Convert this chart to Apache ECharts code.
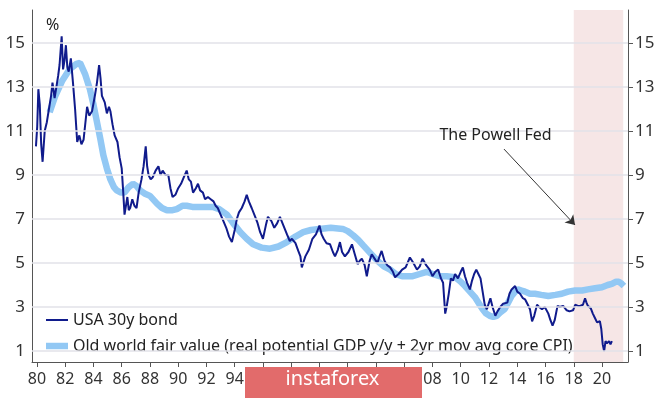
<!DOCTYPE html>
<html>
<head>
<meta charset="utf-8">
<script src="https://cdn.jsdelivr.net/npm/echarts@6/dist/echarts.min.js"></script>
<style>
  html, body { margin: 0; padding: 0; background: #fff; }
  #chart { width: 665px; height: 398px; }
</style>
</head>
<body>
<div id="chart"></div>
<script>
// USA 30y bond yield
const bondYears = [
  1979.93, 1980.02, 1980.1, 1980.2, 1980.3, 1980.4, 1980.55, 1980.7, 1980.85, 1981.0,
  1981.1, 1981.25, 1981.4, 1981.5, 1981.6, 1981.75, 1981.85, 1981.95, 1982.05, 1982.15,
  1982.25, 1982.4, 1982.55, 1982.7, 1982.85, 1983.0, 1983.15, 1983.3, 1983.45, 1983.55,
  1983.7, 1983.9, 1984.1, 1984.25, 1984.4, 1984.5, 1984.6, 1984.8, 1984.95, 1985.1,
  1985.2, 1985.35, 1985.5, 1985.7, 1985.85, 1986.0, 1986.1, 1986.2, 1986.3, 1986.4,
  1986.5, 1986.6, 1986.75, 1986.9, 1987.05, 1987.2, 1987.4, 1987.55, 1987.7, 1987.8,
  1987.9, 1988.05, 1988.2, 1988.4, 1988.6, 1988.75, 1988.9, 1989.1, 1989.3, 1989.45,
  1989.6, 1989.8, 1990.0, 1990.2, 1990.4, 1990.6, 1990.75, 1990.9, 1991.05, 1991.25,
  1991.4, 1991.55, 1991.75, 1991.9, 1992.1, 1992.3, 1992.5, 1992.65, 1992.8, 1993.0,
  1993.2, 1993.4, 1993.6, 1993.8, 1994.0, 1994.15, 1994.3, 1994.5, 1994.7, 1994.85,
  1995.0, 1995.2, 1995.45, 1995.6, 1995.8, 1996.0, 1996.2, 1996.35, 1996.6, 1996.8,
  1997.0, 1997.2, 1997.45, 1997.7, 1997.9, 1998.05, 1998.3, 1998.5, 1998.65, 1998.75,
  1998.9, 1999.0, 1999.25, 1999.5, 1999.75, 2000.0, 2000.15, 2000.3, 2000.5, 2000.75,
  2000.95, 2001.1, 2001.3, 2001.45, 2001.6, 2001.8, 2002.05, 2002.3, 2002.5, 2002.7,
  2002.85, 2003.0, 2003.2, 2003.35, 2003.55, 2003.7, 2003.9, 2004.1, 2004.25, 2004.4,
  2004.6, 2004.8, 2005.0, 2005.2, 2005.35, 2005.6, 2005.85, 2006.1, 2006.4, 2006.65,
  2006.9, 2007.1, 2007.3, 2007.55, 2007.8, 2008.0, 2008.2, 2008.4, 2008.6, 2008.75,
  2008.9, 2009.0, 2009.15, 2009.3, 2009.45, 2009.6, 2009.8, 2010.0, 2010.15, 2010.3,
  2010.45, 2010.65, 2010.8, 2010.95, 2011.1, 2011.25, 2011.4, 2011.55, 2011.7, 2011.85,
  2012.0, 2012.1, 2012.25, 2012.45, 2012.6, 2012.8, 2013.0, 2013.3, 2013.45, 2013.6,
  2013.85, 2014.0, 2014.2, 2014.4, 2014.55, 2014.75, 2014.9, 2015.05, 2015.2, 2015.4,
  2015.55, 2015.75, 2015.95, 2016.2, 2016.35, 2016.5, 2016.65, 2016.85, 2017.0, 2017.25,
  2017.5, 2017.7, 2017.95, 2018.1, 2018.3, 2018.45, 2018.65, 2018.8, 2018.9, 2019.0,
  2019.2, 2019.35, 2019.5, 2019.65, 2019.85, 2019.95, 2020.05, 2020.15, 2020.25, 2020.35,
  2020.5, 2020.6, 2020.7
]
const bondValues = [
  10.3, 11.2, 12.9, 12.2, 10.4, 9.6, 11.0, 11.4, 12.0, 12.6,
  13.2, 12.5, 13.1, 13.5, 14.0, 15.3, 13.8, 14.2, 14.9, 13.9,
  13.7, 14.3, 13.2, 12.0, 10.5, 10.8, 10.4, 10.6, 11.5, 12.1,
  11.7, 11.9, 12.6, 13.2, 14.0, 13.4, 12.6, 12.3, 11.8, 12.1,
  11.9, 11.3, 10.8, 10.5, 9.8, 9.3, 8.3, 7.2, 7.6, 8.0,
  7.4, 7.5, 7.9, 7.6, 7.5, 8.2, 8.8, 9.4, 10.3, 9.4,
  9.0, 8.8, 8.9, 9.2, 9.4, 9.0, 9.2, 9.0, 9.0, 8.4,
  8.0, 8.1, 8.4, 8.6, 8.9, 9.2, 8.8, 8.7, 8.2, 8.4,
  8.6, 8.3, 8.2, 7.9, 8.0, 7.9, 7.8, 7.6, 7.5, 7.2,
  6.9, 6.6, 6.2, 5.95, 6.5, 7.0, 7.3, 7.5, 7.8, 8.1,
  7.8, 7.5, 7.1, 6.85, 6.4, 6.1, 6.7, 7.1, 6.9, 6.6,
  6.8, 7.1, 6.7, 6.3, 6.0, 6.1, 5.9, 5.55, 5.3, 4.8,
  5.1, 5.3, 5.6, 6.1, 6.3, 6.7, 6.3, 6.1, 5.9, 5.85,
  5.5, 5.3, 5.6, 5.95, 5.5, 5.3, 5.5, 5.85, 5.4, 4.95,
  5.1, 5.2, 4.9, 4.4, 5.1, 5.4, 5.2, 5.0, 5.3, 5.55,
  5.1, 4.9, 4.8, 4.6, 4.35, 4.5, 4.7, 4.8, 5.25, 5.0,
  4.7, 4.85, 5.2, 4.9, 4.7, 4.4, 4.6, 4.7, 4.3, 4.1,
  2.7, 3.0, 3.6, 4.3, 4.2, 4.5, 4.3, 4.6, 4.8, 4.4,
  4.1, 3.8, 4.2, 4.5, 4.7, 4.5, 4.3, 3.7, 3.1, 2.9,
  3.2, 3.4, 3.0, 2.6, 2.8, 3.0, 3.15, 3.2, 3.6, 3.8,
  3.95, 3.7, 3.6, 3.4, 3.35, 3.1, 2.9, 2.35, 2.6, 3.1,
  3.0, 2.9, 3.0, 2.7, 2.4, 2.15, 2.4, 3.05, 3.0, 3.05,
  2.85, 2.8, 2.85, 3.1, 3.05, 3.05, 3.1, 3.4, 3.2, 3.05,
  2.95, 2.7, 2.5, 2.3, 2.35, 2.0, 1.3, 1.0, 1.45, 1.35,
  1.45, 1.3, 1.45
]

// Old world fair value
const fairYears = [
  1980.9, 1981.3, 1981.8, 1982.3, 1982.8, 1983.05, 1983.4, 1983.75, 1984.0, 1984.25,
  1984.5, 1984.7, 1984.95, 1985.2, 1985.45, 1985.65, 1985.95, 1986.2, 1986.5, 1986.8,
  1987.05, 1987.3, 1987.65, 1988.0, 1988.5, 1988.85, 1989.2, 1989.6, 1989.9, 1990.3,
  1990.6, 1991.0, 1991.55, 1992.0, 1992.45, 1992.9, 1993.45, 1993.9, 1994.4, 1994.85,
  1995.3, 1995.9, 1996.5, 1997.1, 1997.7, 1998.3, 1998.85, 1999.4, 2000.0, 2000.8,
  2001.65, 2002.0, 2002.4, 2002.75, 2003.1, 2003.6, 2004.1, 2004.55, 2005.0, 2005.4,
  2005.85, 2006.6, 2007.1, 2007.6, 2008.0, 2008.5, 2009.0, 2009.6, 2010.0, 2010.3,
  2010.65, 2011.0, 2011.3, 2011.55, 2011.8, 2012.05, 2012.3, 2012.55, 2012.8, 2013.1,
  2013.35, 2013.6, 2013.85, 2014.05, 2014.3, 2014.55, 2014.9, 2015.25, 2015.7, 2016.2,
  2016.7, 2017.15, 2017.6, 2018.1, 2018.6, 2019.0, 2019.5, 2020.0, 2020.4, 2020.7,
  2021.0, 2021.2, 2021.4, 2021.55
]
const fairValues = [
  11.85, 12.6, 13.3, 13.8, 14.05, 14.1, 13.6, 12.9, 12.2, 11.4,
  10.6, 9.9, 9.3, 8.8, 8.45, 8.3, 8.2, 8.2, 8.45, 8.6,
  8.5, 8.3, 8.15, 8.05, 7.7, 7.5, 7.4, 7.4, 7.45, 7.6,
  7.6, 7.55, 7.55, 7.55, 7.55, 7.45, 7.2, 6.8, 6.4, 6.1,
  5.85, 5.7, 5.65, 5.75, 5.95, 6.2, 6.4, 6.5, 6.55, 6.6,
  6.55, 6.45, 6.25, 6.05, 5.8, 5.45, 5.1, 4.85, 4.7, 4.5,
  4.4, 4.4, 4.5, 4.6, 4.5, 4.4, 4.4, 4.35, 4.15, 3.95,
  3.7, 3.45, 3.15, 2.9, 2.7, 2.6, 2.55, 2.6, 2.75, 2.9,
  3.2, 3.5, 3.7, 3.8, 3.75, 3.7, 3.6, 3.6, 3.55, 3.5,
  3.55, 3.6, 3.7, 3.75, 3.75, 3.8, 3.85, 3.9, 4.0, 4.05,
  4.15, 4.15, 4.05, 3.95
]

const yearTicks = [1980, 1982, 1984, 1986, 1988, 1990, 1992, 1994, 1996, 1998, 2000,
  2002, 2004, 2006, 2008, 2010, 2012, 2014, 2016, 2018, 2020]
const valueTicks = [1, 3, 5, 7, 9, 11, 13, 15]
const powellStart = 2018.0
const powellEnd = 2021.5

const bondName = 'USA 30y bond'
const fairName = 'Old world fair value (real potential GDP y/y + 2yr mov avg core CPI)'

const font = '"Noto Sans", sans-serif'
const chart = echarts.init(document.getElementById('chart'))

function yAxisCfg(pos) {
  return {
    type: 'value',
    position: pos,
    min: 0.5,
    max: 16.5,
    axisLine: { show: true, lineStyle: { color: '#555', width: 1 } },
    axisTick: {
      show: pos === 'right',
      customValues: valueTicks,
      length: 5,
      lineStyle: { color: '#555' }
    },
    axisLabel: {
      customValues: valueTicks,
      margin: 7,
      fontSize: 17,
      color: '#333',
      fontFamily: font
    },
    splitLine: { show: false }
  }
}

chart.setOption({
  animation: false,
  grid: { left: 32, right: 37, top: 10, bottom: 36 },
  legend: {
    orient: 'vertical',
    left: 41,
    top: 307,
    itemWidth: 22,
    itemHeight: 12,
    itemGap: 10,
    textStyle: { fontSize: 16, color: '#222', fontFamily: font },
    data: [
      { name: bondName, icon: 'path://M0,0 H22 V2 H0 Z' },
      { name: fairName, icon: 'path://M0,0 H22 V6.5 H0 Z' }
    ]
  },
  xAxis: {
    type: 'value',
    min: 1979.65,
    max: 2021.84,
    axisLine: { show: true, lineStyle: { color: '#555', width: 1 } },
    axisTick: { show: true, customValues: yearTicks, length: 5, lineStyle: { color: '#555' } },
    axisLabel: {
      customValues: yearTicks,
      margin: 9,
      fontSize: 16,
      color: '#333',
      fontFamily: font,
      formatter: v => String(Math.round(v) % 100).padStart(2, '0')
    },
    splitLine: { show: false }
  },
  yAxis: [yAxisCfg('left'), yAxisCfg('right')],
  graphic: [
    {
      type: 'text',
      left: 46,
      top: 17,
      style: { text: '%', fontSize: 16, fill: '#222', fontFamily: font }
    },
    {
      type: 'rect',
      left: 245,
      top: 367,
      z: 100,
      shape: { width: 177, height: 31 },
      style: { fill: '#e26b6b' }
    },
    {
      type: 'text',
      left: 'center',
      top: 369,
      z: 101,
      x: -1,
      style: { text: 'instaforex', fontSize: 20, fill: '#fff', fontFamily: font }
    }
  ],
  series: [
    {
      name: 'grid',
      type: 'line',
      data: [],
      z: 1,
      markArea: {
        silent: true,
        itemStyle: { color: 'rgba(240, 214, 214, 0.6)' },
        data: [[{ xAxis: powellStart }, { xAxis: powellEnd }]]
      },
      markLine: {
        silent: true,
        symbol: 'none',
        label: { show: false },
        lineStyle: { color: '#e2e2e8', width: 1.5, type: 'solid' },
        data: valueTicks.map(v => ({ yAxis: v }))
      }
    },
    {
      name: fairName,
      type: 'line',
      z: 2,
      showSymbol: false,
      symbol: 'none',
      color: '#92c8f4',
      lineStyle: { width: 6.5, color: '#92c8f4' },
      data: fairYears.map((y, i) => [y, fairValues[i]])
    },
    {
      name: bondName,
      type: 'line',
      z: 3,
      showSymbol: false,
      symbol: 'none',
      color: '#101b8c',
      lineStyle: { width: 2, color: '#101b8c' },
      data: bondYears.map((y, i) => [y, bondValues[i]]),
      markLine: {
        silent: true,
        symbol: ['none', 'arrow'],
        symbolSize: 9,
        label: { show: false },
        lineStyle: { color: '#333', width: 1, type: 'solid' },
        data: [[{ coord: [2013.06, 10.18] }, { coord: [2018.09, 6.73] }]]
      },
      markPoint: {
        silent: true,
        symbolSize: 0,
        label: {
          show: true,
          formatter: 'The Powell Fed',
          fontSize: 16,
          color: '#222',
          fontFamily: font
        },
        data: [{ coord: [2012.46, 10.8] }]
      }
    }
  ]
})
</script>
</body>
</html>
